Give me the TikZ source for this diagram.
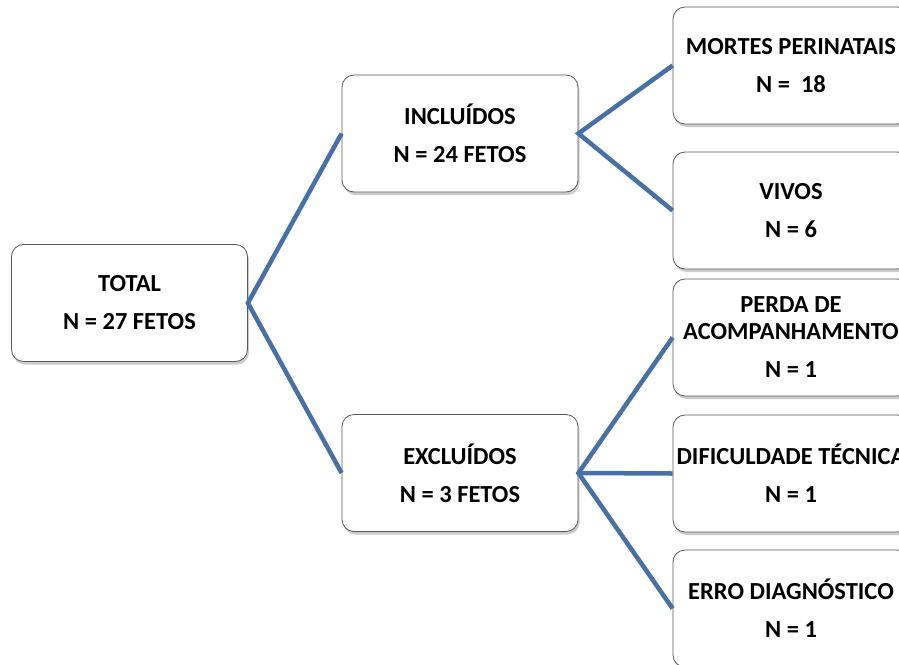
\documentclass[tikz,border=0pt]{standalone}
\usepackage{fontspec}
\setmainfont{Carlito}
\usetikzlibrary{shadows}
\definecolor{linkblue}{RGB}{72,112,168}
\tikzset{
  box/.style={draw=black!65, line width=0.8pt, fill=white, rounded corners=12pt, align=center,
    minimum width=236pt, minimum height=117pt, inner sep=2pt,
    font=\fontsize{24.5}{27}\selectfont\bfseries,
    drop shadow={shadow xshift=1.5pt, shadow yshift=-3pt, opacity=0.4}},
  link/.style={draw=linkblue, line width=4.5pt}
}
\begin{document}
\begin{tikzpicture}[x=1pt, y=-1pt]
\clip (0,0) rectangle (899,664);
\node[box] (total) at (129.5,303) {TOTAL\\[11pt]N = 27 FETOS};
\node[box] (inc) at (460,133.5) {INCLUÍDOS\\[11pt]N = 24 FETOS};
\node[box] (exc) at (460,473) {EXCLUÍDOS\\[11pt]N = 3 FETOS};
\node[box] (mortes) at (791,65.5) {MORTES PERINATAIS\\[11pt]N = \ 18};
\node[box] (vivos) at (791,210.5) {VIVOS\\[11pt]N = 6};
\node[box] (perda) at (791,337.5) {PERDA DE\\ACOMPANHAMENTO\\[11pt]N = 1};
\node[box] (dific) at (791,473.5) {DIFICULDADE TÉCNICA\\[11pt]N = 1};
\node[box] (erro) at (791,608.5) {ERRO DIAGNÓSTICO\\[11pt]N = 1};
\draw[link] (inc.west) -- (total.east) -- (exc.west);
\draw[link] (mortes.west) -- (inc.east) -- (vivos.west);
\draw[link] (perda.west) -- (exc.east) -- (erro.west);
\draw[link] (exc.east) -- (dific.west);
\end{tikzpicture}
\end{document}
